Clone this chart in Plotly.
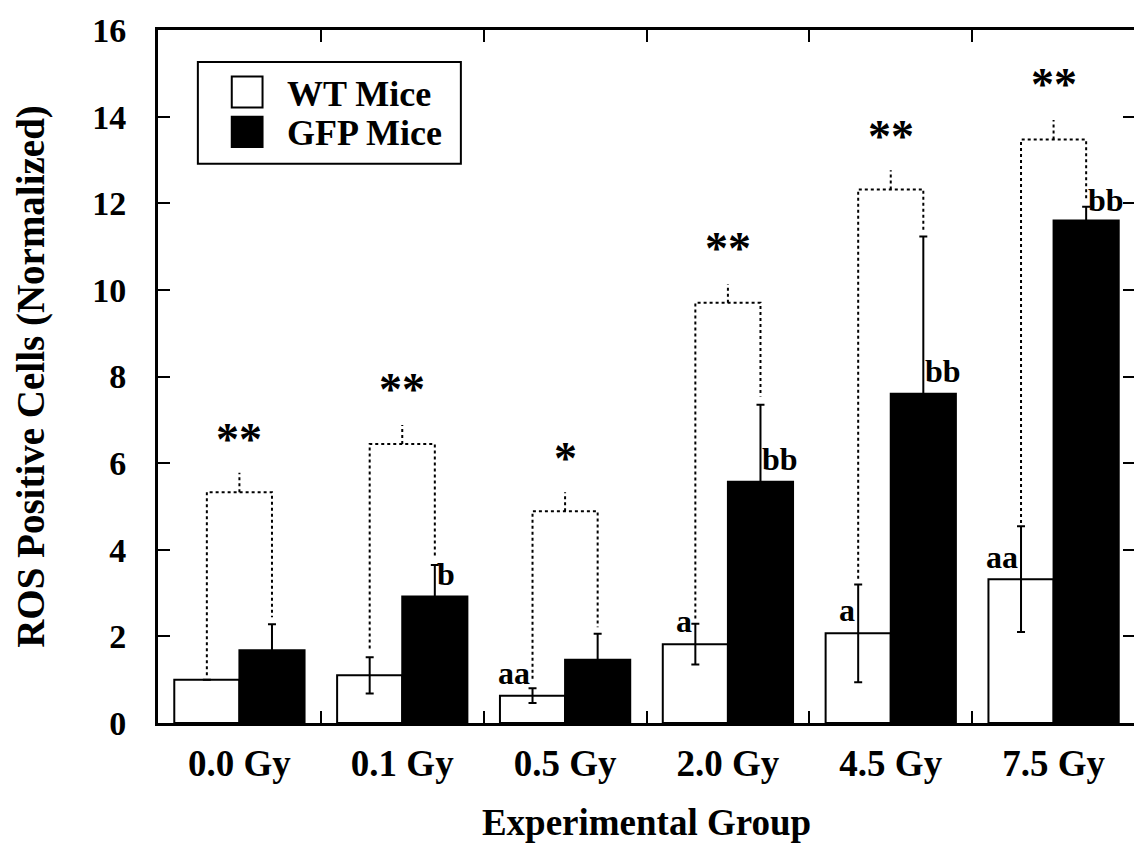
import plotly.graph_objects as go

# ---- data ----
groups = ["0.0 Gy", "0.1 Gy", "0.5 Gy", "2.0 Gy", "4.5 Gy", "7.5 Gy"]
wt_mean = [1.0, 1.1, 0.63, 1.82, 2.07, 3.32]
wt_err = [0.0, 0.42, 0.17, 0.47, 1.13, 1.22]
gfp_mean = [1.68, 2.92, 1.46, 5.57, 7.6, 11.6]
gfp_err = [0.6, 0.73, 0.6, 1.78, 3.63, 0.32]

# significance brackets
bracket_y = [5.33, 6.44, 4.89, 9.7, 12.32, 13.47]
bracket_top = [5.78, 6.88, 5.33, 10.13, 12.76, 13.92]
wt_line_start = [1.1, 1.72, 1.02, 2.41, 3.33, 4.62]
gfp_line_start = [2.44, 3.81, 2.21, 7.54, 11.36, 12.06]
stars = ["**", "**", "*", "**", "**", "**"]
star_y = [6.55, 7.7, 6.1, 10.95, 13.55, 14.75]

# letters
wt_letters = ["", "", "aa", "a", "a", "aa"]
wt_letter_y = [0, 0, 1.15, 2.35, 2.6, 3.83]
gfp_letters = ["", "b", "", "bb", "bb", "bb"]
gfp_letter_y = [0, 3.44, 0, 6.1, 8.13, 12.08]

legend_names = ["WT Mice", "GFP Mice"]
legend_fills = ["white", "black"]

FONT = "Liberation Serif"
xpos = list(range(len(groups)))

fig = go.Figure()
fig.add_trace(go.Bar(
    x=xpos, y=wt_mean, name=legend_names[0], showlegend=False,
    marker=dict(color=legend_fills[0], line=dict(color="black", width=2)),
    error_y=dict(type="data", array=wt_err, color="black", thickness=2, width=4),
))
fig.add_trace(go.Bar(
    x=xpos, y=gfp_mean, name=legend_names[1], showlegend=False,
    marker=dict(color=legend_fills[1], line=dict(color="black", width=2)),
    error_y=dict(type="data", array=gfp_err, color="black", thickness=2, width=4),
))

# brackets
for i in range(len(groups)):
    xl, xr = i - 0.2, i + 0.2
    fig.add_trace(go.Scatter(
        x=[xl, xl, xr, xr, None, i, i],
        y=[wt_line_start[i], bracket_y[i], bracket_y[i], gfp_line_start[i], None, bracket_y[i], bracket_top[i]],
        mode="lines", line=dict(color="black", width=2, dash="dot"),
        showlegend=False, hoverinfo="skip",
    ))
    fig.add_annotation(x=i, y=star_y[i], text=stars[i], showarrow=False,
                       font=dict(family=FONT, size=46, color="black", weight="bold"),
                       yanchor="middle")
    if wt_letters[i]:
        fig.add_annotation(x=i - 0.2, y=wt_letter_y[i], text=wt_letters[i], showarrow=False,
                           xanchor="right", xshift=-1,
                           font=dict(family=FONT, size=32, color="black", weight="bold"))
    if gfp_letters[i]:
        fig.add_annotation(x=i + 0.2, y=gfp_letter_y[i], text=gfp_letters[i], showarrow=False,
                           xanchor="left", xshift=0,
                           font=dict(family=FONT, size=32, color="black", weight="bold"))

# legend box drawn by hand (large square swatches like the original)
fig.add_shape(type="rect", xref="paper", yref="paper", x0=0.0408, x1=0.310, y0=0.807, y1=0.954,
              line=dict(color="black", width=2), fillcolor="white", layer="above")
sw_y = [(0.888, 0.933), (0.831, 0.875)]
txt_y = [0.908, 0.852]
for k in range(2):
    fig.add_shape(type="rect", xref="paper", yref="paper", x0=0.0755, x1=0.107,
                  y0=sw_y[k][0], y1=sw_y[k][1],
                  line=dict(color="black", width=2), fillcolor=legend_fills[k], layer="above")
    fig.add_annotation(xref="paper", yref="paper", x=0.1296, y=txt_y[k], text=legend_names[k],
                       xanchor="left", yanchor="middle", showarrow=False,
                       font=dict(family=FONT, size=36, color="black", weight="bold"))

fig.update_layout(
    width=1134, height=839,
    margin=dict(l=150, r=4, t=17, b=124),
    paper_bgcolor="white", plot_bgcolor="white",
    barmode="group", bargap=0.2, bargroupgap=0,
    font=dict(family=FONT, color="black", weight="bold"),
    showlegend=False,
    xaxis=dict(
        range=[-0.5, 5.5], tickmode="array", tickvals=xpos, ticktext=groups,
        ticks="", showgrid=False, zeroline=False,
        showline=True, linecolor="black", linewidth=3, mirror="ticks",
        tickfont=dict(family=FONT, size=37, color="black", weight="bold"),
        ticklabelstandoff=6,
        minor=dict(tickvals=[0.5, 1.5, 2.5, 3.5, 4.5], ticks="inside", ticklen=12,
                   tickwidth=2, tickcolor="black", showgrid=False),
        title=dict(text="Experimental Group", standoff=26,
                   font=dict(family=FONT, size=37, color="black", weight="bold")),
    ),
    yaxis=dict(
        range=[0, 16], dtick=2, ticks="inside", ticklen=12, tickwidth=2, tickcolor="black",
        showgrid=False, zeroline=False,
        showline=True, linecolor="black", linewidth=3, mirror="ticks",
        tickfont=dict(family=FONT, size=34, color="black", weight="bold"),
        ticklabelstandoff=22, ticklabeloverflow="allow",
        title=dict(text="ROS Positive Cells (Normalized)", standoff=36,
                   font=dict(family=FONT, size=39, color="black", weight="bold")),
    ),
)

fig.write_html("out.html")
